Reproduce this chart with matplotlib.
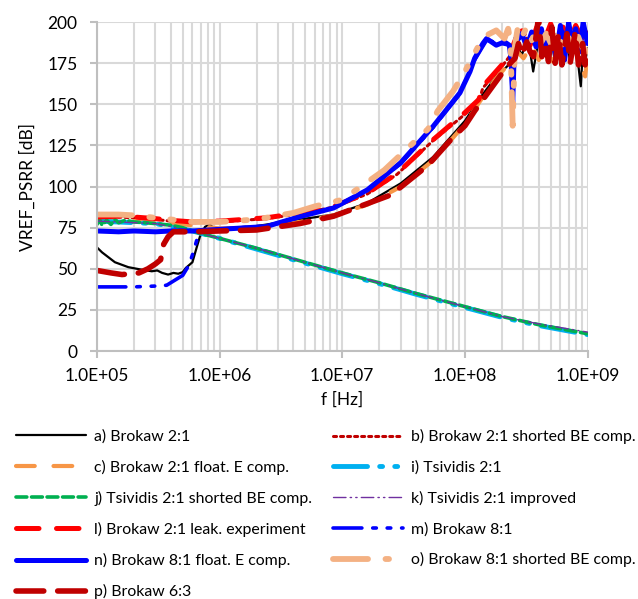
import matplotlib
matplotlib.use("Agg")
import matplotlib.pyplot as plt
from matplotlib.ticker import FuncFormatter, FixedLocator, LogLocator, NullFormatter

plt.rcParams["font.family"] = ["Lato", "DejaVu Sans"]
plt.rcParams["font.size"] = 12.5

# --- data (frequency in Hz, PSRR in dB) ---
F_A = [1.0e5, 1.1e5, 1.4e5, 1.8e5, 2.3e5, 2.8e5, 3.1e5, 3.4e5, 3.8e5, 4.2e5, 4.6e5, 5.0e5,
       5.3e5, 6.0e5, 6.5e5, 6.9e5, 7.6e5, 8.3e5, 9.0e5, 1.0e6, 2.0e6, 4.5e6, 8.5e6, 1.6e7,
       3.0e7, 5.5e7, 1.0e8, 1.3e8, 1.8e8, 2.2e8, 2.4e8, 2.7e8, 2.9e8, 3.2e8, 3.4e8, 3.6e8,
       4.0e8, 4.2e8, 4.5e8, 4.8e8, 5.1e8, 5.4e8, 5.8e8, 6.2e8, 6.8e8, 7.2e8, 7.9e8, 8.4e8,
       8.8e8, 9.1e8, 9.5e8, 1.0e9]
V_A = [63, 60, 54, 51, 49.5, 48.5, 49, 47.5, 46.5, 47.5, 47, 48,
       50.5, 54, 63, 69.5, 75.5, 77, 74.5, 74.5, 76, 80, 83, 90,
       102, 118, 140, 153, 167, 173, 176, 185, 180, 188, 182, 170,
       190, 179, 186, 176, 192, 175, 190, 174, 188, 176, 190, 174,
       161, 180, 176, 184]

F_B = [1.0e5, 1.5e5, 2.0e5, 3.0e5, 4.0e5, 6.0e5, 8.0e5, 1.0e6, 2.4e6, 4.5e6, 8.5e6, 1.6e7,
       2.8e7, 5.5e7, 1.0e8, 1.3e8, 1.4e8, 2.0e8, 2.3e8, 2.6e8, 3.0e8, 3.4e8, 3.9e8, 4.4e8,
       5.0e8, 5.6e8, 6.3e8, 7.1e8, 8.0e8, 9.0e8, 1.0e9]
V_B = [81, 81.5, 81, 80, 79, 78, 78.5, 78.5, 80.5, 83.5, 87.5, 95.5,
       107.5, 128, 144, 152, 160, 173, 179, 189, 195, 185, 197, 187,
       198, 189, 196, 187, 197, 189, 194]

F_C = [1.0e5, 2.0e5, 3.0e5, 5.0e5, 7.0e5, 1.0e6, 2.0e6, 4.5e6, 8.5e6, 1.6e7, 3.0e7, 5.5e7,
       1.0e8, 1.3e8, 1.8e8, 2.3e8, 2.6e8, 3.0e8, 3.5e8, 4.0e8, 4.6e8, 5.2e8, 6.0e8, 6.8e8,
       7.6e8, 8.5e8, 9.55e8, 1.0e9]
V_C = [80, 79, 78, 77, 76, 74.5, 75, 78.5, 82.5, 89, 100, 116,
       138, 151, 166, 175, 183, 178, 186, 177, 185, 176, 184, 178,
       186, 177, 167, 180]

F_I = [1.0e5, 3.0e5, 6.0e5, 1.0e6, 2.0e6, 4.0e6, 1.0e7, 2.0e7, 4.0e7, 1.0e8, 2.0e8, 4.0e8, 1.0e9]
V_I = [79, 77.5, 73, 68.5, 62, 55.5, 47, 41, 34.5, 26.5, 20.5, 15.5, 10]

F_J = [1.0e5, 1.05e5, 1.1e5, 1.2e5, 1.3e5, 1.4e5, 1.5e5, 1.7e5, 2.0e5, 2.5e5, 3.0e5, 4.0e5,
       5.0e5, 6.3e5, 1.0e6, 2.0e6, 4.0e6, 1.0e7, 2.0e7, 4.0e7, 1.0e8, 2.0e8, 4.0e8, 1.0e9]
V_J = [77, 80, 76.5, 79.5, 77, 80, 78, 79.5, 78.5, 78, 77.5, 76.5,
       75, 72.5, 68.5, 62.5, 56, 47.5, 41.5, 35, 27, 21, 16, 10.5]

F_K = [1.0e5, 3.0e5, 6.0e5, 1.0e6, 2.0e6, 4.0e6, 1.0e7, 2.0e7, 4.0e7, 1.0e8, 2.0e8, 4.0e8, 1.0e9]
V_K = [79, 77.5, 73, 68.5, 62.5, 56, 47.5, 41.5, 35, 27, 21, 16.5, 11.5]

F_L = [1.0e5, 1.5e5, 2.0e5, 3.0e5, 4.0e5, 6.0e5, 8.0e5, 1.0e6, 2.4e6, 4.5e6, 8.5e6, 1.6e7,
       2.8e7, 5.5e7, 1.0e8, 1.3e8, 1.4e8, 2.0e8, 2.3e8, 2.6e8, 3.0e8, 3.4e8, 3.9e8, 4.4e8,
       5.0e8, 5.6e8, 6.3e8, 7.1e8, 8.0e8, 9.0e8, 1.0e9]
V_L = [81.5, 82, 81.5, 80.5, 79.5, 78.5, 79, 79, 81, 84, 88, 96,
       108, 128.5, 145, 153, 161, 174, 180, 190, 196, 186, 198, 188,
       199, 190, 197, 188, 198, 190, 195]

F_M = [1.0e5, 2.0e5, 3.0e5, 3.7e5, 4.3e5, 5.0e5, 5.6e5, 6.1e5, 6.6e5, 7.5e5, 1.0e6, 2.4e6,
       4.5e6, 8.5e6, 1.6e7, 3.0e7, 5.5e7, 9.0e7, 1.2e8, 1.5e8, 2.3e8, 2.45e8, 2.6e8, 3.0e8,
       3.5e8, 4.2e8, 5.1e8, 6.0e8, 7.0e8, 8.0e8, 9.2e8, 1.0e9]
V_M = [39, 39, 39.5, 40, 43, 46, 52, 60, 69, 73, 74, 76,
       81.5, 87, 98, 114, 136, 156, 177, 189, 186, 152, 188, 192,
       186, 195, 184, 196, 190, 195, 185, 190]

F_N = [1.0e5, 1.5e5, 2.0e5, 3.0e5, 4.0e5, 6.0e5, 1.0e6, 2.4e6, 4.5e6, 8.5e6, 1.6e7, 3.0e7,
       5.5e7, 9.1e7, 1.1e8, 1.2e8, 1.4e8, 1.5e8, 1.8e8, 2.1e8, 2.3e8, 2.4e8, 2.45e8, 2.5e8,
       2.6e8, 2.9e8, 3.2e8, 3.5e8, 3.8e8, 4.2e8, 4.6e8, 5.1e8, 5.5e8, 6.0e8, 6.5e8, 7.0e8,
       7.5e8, 8.0e8, 8.6e8, 9.2e8, 1.0e9]
V_N = [73, 72.5, 73, 72.5, 73, 73, 74, 75.7, 81.7, 87, 98, 114.6,
       136.6, 157, 170, 178, 187, 190, 186, 188, 186, 175, 150, 172,
       190, 193, 185, 194, 185, 196, 181, 193, 179, 198, 177, 200,
       187, 196, 182, 200, 187]

F_O = [1.0e5, 1.5e5, 2.0e5, 3.0e5, 4.0e5, 6.0e5, 1.0e6, 2.0e6, 4.0e6, 6.0e6, 1.0e7, 2.2e7,
       5.0e7, 6.0e7, 8.0e7, 1.0e8, 1.3e8, 1.5e8, 1.8e8, 2.1e8, 2.25e8, 2.35e8, 2.45e8, 2.55e8,
       2.7e8, 2.9e8, 3.2e8, 3.5e8, 3.8e8, 4.2e8, 4.6e8, 5.1e8, 5.6e8, 6.2e8, 6.8e8, 7.5e8,
       8.2e8, 9.0e8, 1.0e9]
V_O = [83, 83, 82.5, 81, 80, 78.5, 78.5, 80, 84, 88, 92, 110,
       135, 146, 158, 170, 186, 192, 195, 190, 196, 188, 137, 185,
       197, 191, 197, 189, 195, 188, 193, 186, 195, 185, 192, 187,
       193, 185, 182]

F_P = [1.0e5, 1.3e5, 1.6e5, 2.2e5, 2.6e5, 3.0e5, 3.3e5, 3.5e5, 3.8e5, 4.2e5, 6.0e5, 1.0e6,
       2.0e6, 4.5e6, 8.5e6, 2.5e7, 5.0e7, 8.0e7, 1.0e8, 1.2e8, 2.2e8, 2.56e8, 2.73e8, 2.91e8,
       3.19e8, 3.40e8, 3.62e8, 3.98e8, 4.24e8, 4.51e8, 4.80e8, 5.11e8, 5.44e8, 5.79e8, 6.17e8,
       6.78e8, 7.21e8, 7.93e8, 8.43e8, 9.10e8, 9.55e8, 1.0e9]
V_P = [49, 47.5, 46.5, 47.5, 50, 53, 55.5, 65, 69.5, 72.5, 72.5, 73,
       73.6, 77.5, 82, 95, 113, 130, 137, 146, 173, 178, 187, 180,
       188, 182, 179, 203, 179, 188, 176, 197, 175, 193, 174,
       193, 175, 194, 174, 187, 174, 184]

SERIES = [
    ("a) Brokaw 2:1", F_A, V_A, "black", 1.6, "-"),
    ("b) Brokaw 2:1 shorted BE comp.", F_B, V_B, "#C00000", 2.2, (0, (1, 1.3))),
    ("c) Brokaw 2:1 float. E comp.", F_C, V_C, "#F79646", 3.0, (0, (4.5, 4.5))),
    ("i) Tsividis 2:1", F_I, V_I, "#00B0F0", 3.5, (0, (7, 2.5, 0.6, 2.5, 0.6, 2.5))),
    ("j) Tsividis 2:1 shorted BE comp.", F_J, V_J, "#00B050", 2.6, (0, (3, 1.3))),
    ("k) Tsividis 2:1 improved", F_K, V_K, "#7030A0", 1.0, (0, (9, 3, 1, 3, 1, 3))),
    ("l) Brokaw 2:1 leak. experiment", F_L, V_L, "#FF0000", 3.6, (0, (4.5, 3.5))),
    ("m) Brokaw 8:1", F_M, V_M, "#0000FF", 2.6, (0, (8, 3, 1, 3, 1, 3))),
    ("n) Brokaw 8:1 float. E comp.", F_N, V_N, "#0000FF", 3.6, "-"),
    ("o) Brokaw 8:1 shorted BE comp.", F_O, V_O, "#F4B183", 4.2, (0, (6, 3, 0.6, 3, 0.6, 3))),
    ("p) Brokaw 6:3", F_P, V_P, "#C00000", 4.0, (0, (5, 2.5))),
]

fig = plt.figure(figsize=(6.38, 5.99), dpi=100)
ax = fig.add_axes([0.152, 0.414, 0.769, 0.549])

handles = {}
for label, f, v, color, lw, ls in SERIES:
    line, = ax.plot(f, v, color=color, lw=lw, linestyle=ls, label=label,
                    solid_capstyle="round", dash_capstyle="round")
    handles[label[0]] = line

ax.set_xscale("log")
ax.set_xlim(1e5, 1e9)
ax.set_ylim(0, 200)
ax.set_yticks(range(0, 201, 25))
ax.xaxis.set_major_locator(FixedLocator([1e5, 1e6, 1e7, 1e8, 1e9]))
ax.xaxis.set_minor_locator(LogLocator(base=10, subs=range(2, 10)))
ax.xaxis.set_minor_formatter(NullFormatter())
ax.xaxis.set_major_formatter(FuncFormatter(lambda x, _: f"{x:.1E}"))

ax.grid(True, which="major", color="#D9D9D9", lw=1.5)
ax.grid(True, which="minor", axis="x", color="#D9D9D9", lw=1.5)
ax.set_axisbelow(True)
for side in ("top", "right"):
    ax.spines[side].set_visible(False)
for side in ("left", "bottom"):
    ax.spines[side].set_color("#BFBFBF")
    ax.spines[side].set_linewidth(1.5)
ax.tick_params(axis="both", which="major", color="#BFBFBF", width=1.5, length=5)
ax.tick_params(axis="x", which="minor", length=0)
ax.tick_params(axis="y", pad=9)
ax.tick_params(axis="x", pad=7)

ax.set_xlabel("f [Hz]", labelpad=6)
ax.set_ylabel("VREF_PSRR [dB]", labelpad=8)

left_keys = ["a", "c", "j", "l", "n", "p"]
right_keys = ["b", "i", "k", "m", "o"]
leg_kw = dict(frameon=False, loc="upper left", borderpad=0, borderaxespad=0,
              fontsize=11.4, handlelength=4.45, handletextpad=0.5, labelspacing=1.02)
fig.legend([handles[k] for k in left_keys], [handles[k].get_label() for k in left_keys],
           bbox_to_anchor=(16 / 638, 1 - 429 / 599), **leg_kw)
fig.legend([handles[k] for k in right_keys], [handles[k].get_label() for k in right_keys],
           bbox_to_anchor=(333 / 638, 1 - 429 / 599), **leg_kw)

fig.savefig("out.png", dpi=100)
